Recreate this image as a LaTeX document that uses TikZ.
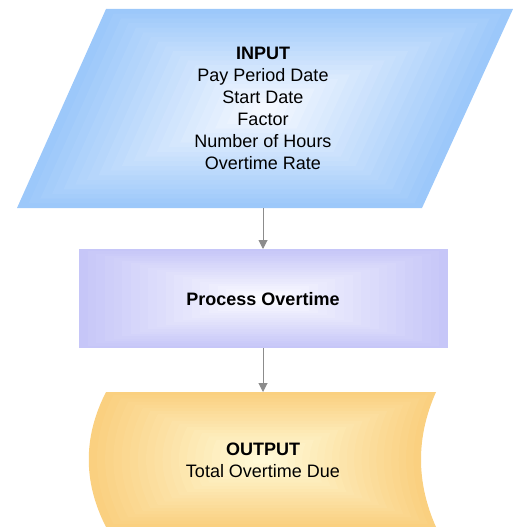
\documentclass[tikz,border=0pt]{standalone}
\usepackage{fontspec}
\setmainfont{Liberation Sans}
\usetikzlibrary{arrows.meta}

\definecolor{inputblue}{HTML}{9CC8FA}
\definecolor{inputcore}{HTML}{F4F8FF}
\definecolor{procviolet}{HTML}{C6C6F8}
\definecolor{proccore}{HTML}{FAFAFF}
\definecolor{outorange}{HTML}{FAD080}
\definecolor{outcore}{HTML}{FFF9D6}
\definecolor{flowgray}{HTML}{8C8C8C}

\tikzset{
  flowarrow/.style={draw=flowgray, line width=1bp, -{Triangle[width=9bp,length=9bp]}},
  flowtext/.style={align=center, font=\fontsize{18bp}{22bp}\selectfont},
}

\begin{document}
\begin{tikzpicture}[x=1bp,y=-1bp]
    \useasboundingbox (0,0) rectangle (513,527);

    % Input parallelogram, stepped shading
    \foreach \i [evaluate=\i as \s using 1-0.047*\i,
                 evaluate=\i as \p using int(100-5*\i)] in {0,...,20} {
        \begin{scope}[shift={(265,108.5)},scale=\s]
          \fill[inputblue!\p!inputcore] (-159,-99.5) -- (248,-99.5) -- (157,99.5) -- (-248,99.5) -- cycle;
        \end{scope}
      }

    % Process rectangle, stepped shading
    \foreach \i [evaluate=\i as \s using 1-0.047*\i,
                 evaluate=\i as \p using int(100-5*\i)] in {0,...,20} {
        \begin{scope}[shift={(263.5,298.5)},scale=\s]
          \fill[procviolet!\p!proccore] (-184.5,-49.5) rectangle (184.5,49.5);
        \end{scope}
      }

    % Output tape, stepped shading
    \foreach \i [evaluate=\i as \s using 1-0.047*\i,
                 evaluate=\i as \p using int(100-5*\i)] in {0,...,20} {
        \begin{scope}[shift={(263,459.5)},scale=\s]
          \fill[outorange!\p!outcore] (-157,-67.5) -- (173,-67.5)
            .. controls (153,-22.5) and (153,22.5) .. (173,67.5)
            -- (-157,67.5)
            .. controls (-180,22.5) and (-180,-22.5) .. (-157,-67.5) -- cycle;
        \end{scope}
      }

    % Texts
    \node[flowtext] (input) at (263,108) {\textbf{INPUT}\\Pay Period Date\\Start Date\\Factor\\Number of Hours\\Overtime Rate};
    \node[flowtext] (process) at (263,299) {\textbf{Process Overtime}};
    \node[flowtext] (output) at (263,460) {\textbf{OUTPUT}\\Total Overtime Due};

    % Connection points on the shapes
    \coordinate (inbot) at (263,208);
    \coordinate (proctop) at (263,249);
    \coordinate (procbot) at (263,348);
    \coordinate (outtop) at (263,392);

    % Arrows
    \draw[flowarrow] (inbot) -- (proctop);
    \draw[flowarrow] (procbot) -- (outtop);
  \end{tikzpicture}
\end{document}
